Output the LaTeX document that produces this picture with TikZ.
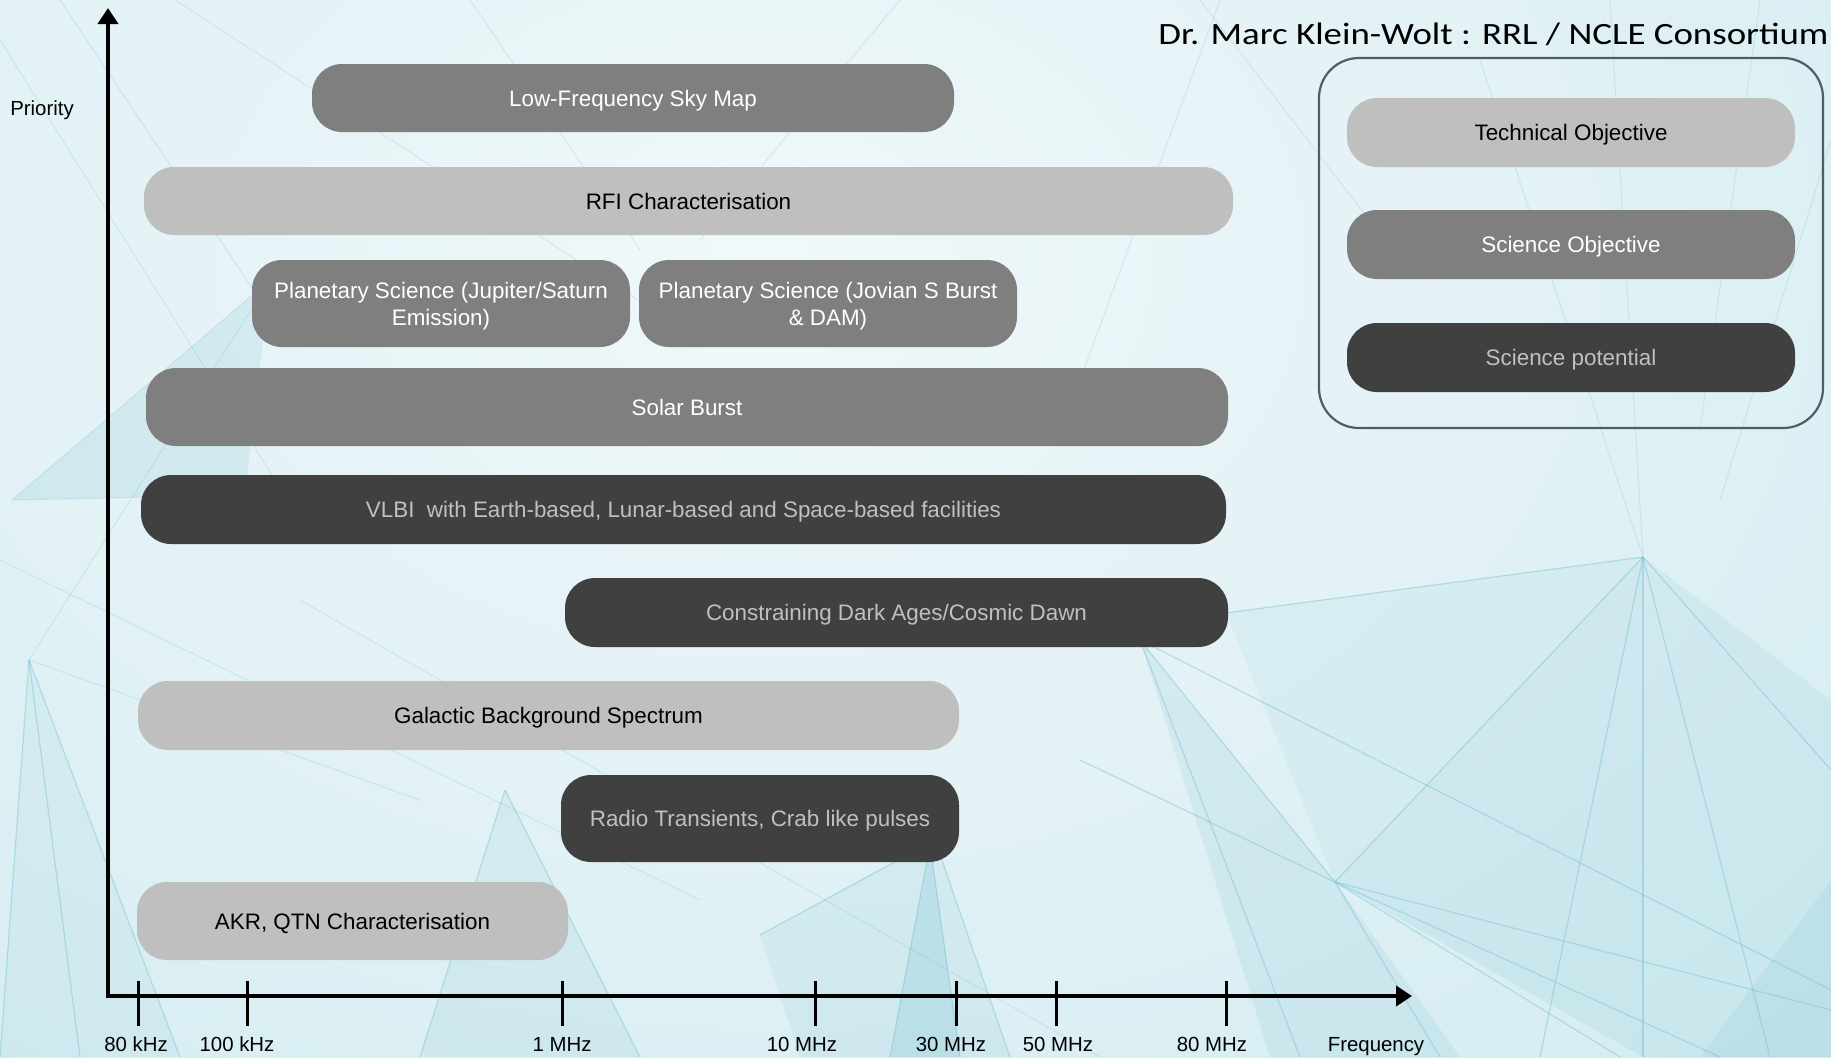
\documentclass[tikz,border=0pt]{standalone}
\usepackage{fontspec}
\setmainfont{Liberation Sans}
\newfontfamily\titlefont[FakeStretch=1.19]{Carlito}
\usetikzlibrary{arrows.meta}
\definecolor{techgray}{HTML}{BFBFBF}
\definecolor{scigray}{HTML}{7F7F7F}
\definecolor{potgray}{HTML}{404040}
\definecolor{pottext}{HTML}{C0C0C0}
\definecolor{glowa}{HTML}{F0F8FA}
\definecolor{glowb}{HTML}{E8F4F7}
\definecolor{glowc}{HTML}{D6EDF2}
\definecolor{glowd}{HTML}{BEE0E8}
\definecolor{glowe}{HTML}{A8D4DF}
\definecolor{tri}{HTML}{5FB4C7}
\definecolor{triline}{HTML}{6DBDCE}
\definecolor{framecol}{HTML}{505C66}
\pgfdeclareradialshading{bgglow}{\pgfpoint{0bp}{0bp}}{color(0bp)=(glowa); color(8bp)=(glowb); color(25bp)=(glowc); color(42bp)=(glowd); color(60bp)=(glowe); color(75bp)=(glowe)}
\newcommand\boxfont{\fontsize{11.2}{13.5}\selectfont}
\newcommand\axfont{\fontsize{10.2}{12}\selectfont}
\tikzset{
  pill/.style={rounded corners=15pt, inner sep=0pt, align=center, font=\boxfont, text depth=-0.4pt},
  techbox/.style={pill, fill=techgray, text=black},
  scibox/.style={pill, fill=scigray, text=white},
  potbox/.style={pill, fill=potgray, text=pottext},
  axisline/.style={line width=2pt, -{Triangle[width=10pt,length=8pt]}},
  tickline/.style={line width=1.5pt},
  ticklabel/.style={font=\axfont, anchor=base, inner sep=0pt},
  bgline/.style={triline, line width=0.6pt, opacity=0.4},
  faintline/.style={triline, line width=0.5pt, opacity=0.22},
  bgtri/.style={tri, opacity=0.12},
}
\begin{document}
\begin{tikzpicture}[x=0.5pt,y=-0.5pt]
\useasboundingbox (0,0) rectangle (1831,1057);
% ---------- background ----------
\begin{scope}
\clip (0,0) rectangle (1831,1057);
\shade[shading=bgglow] (-640,-760) rectangle (2160,1280);
% translucent facets
\fill[bgtri] (1643,557) -- (1335,882) -- (1643,1057) -- cycle;
\fill[bgtri, opacity=0.08] (1643,557) -- (1226,613) -- (1335,882) -- cycle;
\fill[bgtri] (1140,640) -- (1335,882) -- (1460,1057) -- (1270,1057) -- cycle;
\fill[bgtri, opacity=0.1] (1643,557) -- (1831,700) -- (1831,1057) -- (1643,1057) -- cycle;
\fill[bgtri, opacity=0.18] (890,1057) -- (930,845) -- (960,1057) -- cycle;
\fill[bgtri, opacity=0.1] (760,935) -- (935,840) -- (1010,1057) -- (800,1057) -- cycle;
\fill[bgtri, opacity=0.1] (505,790) -- (420,1057) -- (640,1057) -- cycle;
\fill[bgtri, opacity=0.14] (12,500) -- (270,280) -- (245,495) -- cycle;
\fill[bgtri, opacity=0.08] (29,660) -- (0,1057) -- (180,1057) -- cycle;
\fill[bgtri, opacity=0.1] (1831,880) -- (1700,1057) -- (1831,1057) -- cycle;
% facet edges
\draw[bgline] (1643,557) -- (1226,613);
\draw[bgline] (1643,557) -- (1335,882);
\draw[bgline] (1643,557) -- (1643,1057);
\draw[bgline] (1643,557) -- (1831,770);
\draw[bgline] (1643,557) -- (1770,1057);
\draw[bgline] (1643,557) -- (1540,1057);
\draw[bgline] (1335,882) -- (1831,1010);
\draw[bgline] (1335,882) -- (1620,1057);
\draw[bgline] (1335,882) -- (1720,1057);
\draw[bgline] (1335,882) -- (1140,640);
\draw[bgline] (1335,882) -- (1080,760);
\draw[bgline] (1335,882) -- (1440,1057);
\draw[bgline] (1140,640) -- (1831,990);
\draw[bgline] (1140,640) -- (1300,1057);
\draw[faintline] (1610,0) -- (1643,557);
\draw[faintline] (1480,60) -- (1643,557);
\draw[faintline] (1760,0) -- (1700,430);
\draw[faintline] (1831,140) -- (1720,500);
\draw[faintline] (1220,0) -- (1080,380);
\draw[faintline] (1200,0) -- (1400,260);
\draw[bgline] (930,845) -- (890,1057);
\draw[bgline] (930,845) -- (960,1057);
\draw[bgline] (760,935) -- (935,840);
\draw[bgline] (935,840) -- (1010,1057);
\draw[bgline] (505,790) -- (420,1057);
\draw[bgline] (505,790) -- (640,1057);
\draw[bgline] (29,660) -- (0,1057);
\draw[bgline] (29,660) -- (80,1057);
\draw[bgline] (29,660) -- (180,1057);
\draw[faintline] (29,660) -- (420,800);
\draw[faintline] (29,660) -- (270,280);
\draw[faintline] (12,500) -- (270,280);
\draw[faintline] (12,500) -- (245,495);
\draw[faintline] (0,40) -- (300,520);
\draw[faintline] (60,0) -- (260,300);
\draw[faintline] (175,0) -- (700,340);
\draw[faintline] (470,0) -- (640,250);
\draw[faintline] (900,0) -- (700,240);
\draw[faintline] (0,560) -- (700,900);
\draw[faintline] (300,600) -- (1100,1057);
\end{scope}
% ---------- title ----------
\node[font=\titlefont\fontsize{15.5}{18}\selectfont, anchor=base east, inner sep=0pt] (title) at (1829,44) {Dr. Marc Klein-Wolt : RRL / NCLE Consortium};
% ---------- legend ----------
\draw[framecol, line width=1.1pt, rounded corners=20pt] (1319,58) rectangle (1823,428);
\node[techbox, minimum width=224pt, minimum height=34.5pt] (legtech) at (1571,132.5) {Technical Objective};
\node[scibox, minimum width=224pt, minimum height=34.5pt] (legsci) at (1571,244.5) {Science Objective};
\node[potbox, minimum width=224pt, minimum height=34.5pt] (legpot) at (1571,357.5) {Science potential};
% ---------- axes ----------
\coordinate (origin) at (106,996);
\coordinate (ytop) at (108,8);
\coordinate (ybot) at (108,998);
\coordinate (xend) at (1412,996);
\draw[axisline] (ybot) -- (ytop);
\draw[axisline] (origin) -- (xend);
\node[font=\axfont, anchor=base, inner sep=0pt] (prio) at (42,115) {Priority};
\foreach \nm/\xx/\lx/\lab in {t80k/138/136/80 kHz, t100k/247/237/100 kHz, t1M/562/562/1 MHz, t10M/815/802/10 MHz, t30M/956/951/30 MHz, t50M/1056/1058/50 MHz, t80M/1226/1212/80 MHz}{
  \coordinate (\nm a) at (\xx,981);
  \coordinate (\nm b) at (\xx,1026);
  \draw[tickline] (\nm a) -- (\nm b);
  \node[ticklabel] (\nm l) at (\lx,1051) {\lab};
}
\node[ticklabel] (freq) at (1376,1051) {Frequency};
% ---------- objective bars ----------
\node[scibox, minimum width=321pt, minimum height=34pt] (lfsky) at (633,98) {Low-Frequency Sky Map};
\node[techbox, minimum width=544.5pt, minimum height=34pt] (rfi) at (688.5,201) {RFI Characterisation};
\node[scibox, minimum width=189pt, minimum height=43.5pt] (planjs) at (441,303.5) {Planetary Science (Jupiter/Saturn\\Emission)};
\node[scibox, minimum width=189pt, minimum height=43.5pt] (planjov) at (828,303.5) {Planetary Science (Jovian S Burst\\\& DAM)};
\node[scibox, minimum width=541pt, minimum height=39pt] (solar) at (687,407) {Solar Burst};
\node[potbox, minimum width=542.5pt, minimum height=34.5pt] (vlbi) at (683.5,509.5) {VLBI\ \ with Earth-based, Lunar-based and Space-based facilities};
\node[potbox, minimum width=331.5pt, minimum height=34.5pt] (dark) at (896.5,612.5) {Constraining Dark Ages/Cosmic Dawn};
\node[techbox, minimum width=410.5pt, minimum height=34.5pt] (gal) at (548.5,715.5) {Galactic Background Spectrum};
\node[potbox, minimum width=199pt, minimum height=43.5pt] (radio) at (760,818.5) {Radio Transients, Crab like pulses};
\node[techbox, minimum width=215.5pt, minimum height=39pt] (akr) at (352.5,921) {AKR, QTN Characterisation};
\end{tikzpicture}
\end{document}
